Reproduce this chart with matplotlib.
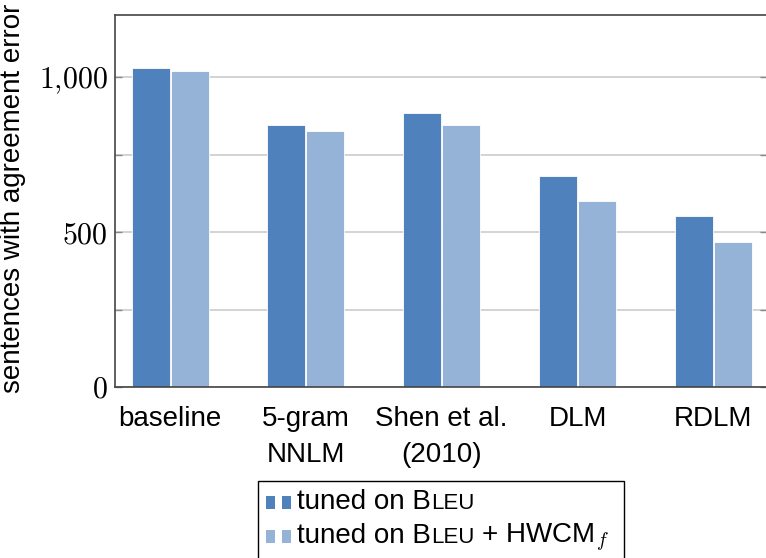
import matplotlib
matplotlib.use("Agg")
import matplotlib.pyplot as plt
import numpy as np
from matplotlib.offsetbox import AnchoredOffsetbox, DrawingArea, HPacker, TextArea, VPacker
from matplotlib.patches import Rectangle

plt.rcParams["font.family"] = ["Liberation Sans", "DejaVu Sans"]
plt.rcParams["mathtext.fontset"] = "cm"

# data
systems = ["baseline", "5-gram\nNNLM", "Shen et al.\n(2010)", "DLM", "RDLM"]
bleu = [1029, 846, 885, 681, 551]
bleu_hwcm = [1019, 827, 846, 600, 469]
yticks = [0, 250, 500, 750, 1000]
ytick_labels = ["$0$", "", "$500$", "", "$1{,}000$"]

DARK = "#4f81bd"
LIGHT = "#95b3d7"

W, H = 766, 558
fig = plt.figure(figsize=(W / 100, H / 100), dpi=100)
ax = fig.add_axes([115 / W, 1 - 387 / H, 652 / W, 372 / H])

x = np.arange(len(systems))
bw = 0.28
ax.bar(x - bw / 2 - 0.003, bleu, bw, color=DARK, edgecolor="white", linewidth=0.6, zorder=2)
ax.bar(x + bw / 2 + 0.004, bleu_hwcm, bw, color=LIGHT, edgecolor="white", linewidth=0.6, zorder=2)

ax.set_xlim(-0.405, 4.395)
ax.set_ylim(0, 1200)
ax.set_xticks(x)
ax.set_xticklabels(systems, fontsize=20, linespacing=1.5)
ax.set_yticks(yticks)
ax.set_yticklabels(ytick_labels, fontsize=21.5)
ax.tick_params(axis="x", length=0, pad=13.5)
ax.tick_params(axis="y", direction="in", length=5, width=1, color="#888888",
               left=True, right=True, pad=5)
ax.yaxis.grid(True, color="#cccccc", linewidth=1.2, zorder=0)
ax.set_axisbelow(True)
for side in ["left", "top", "bottom", "right"]:
    ax.spines[side].set_color("#444444")
    ax.spines[side].set_linewidth(1.2)
ax.set_ylabel("sentences with agreement error", fontsize=20)
ax.yaxis.set_label_coords(-0.1365, 0.508)


def legend_row(color, parts, tail=0):
    da = DrawingArea(21, 9.4, 0, 0)
    da.add_artist(Rectangle((0, 0), 7.0, 9.4, fc=color, ec="none"))
    da.add_artist(Rectangle((11.5, 0), 6.8, 9.4, fc=color, ec="none"))
    texts = [TextArea(t, textprops=dict(size=s)) for t, s in parts]
    if tail:
        texts.append(DrawingArea(tail, 1, 0, 0))
    label = HPacker(children=texts, align="baseline", pad=0, sep=0)
    return HPacker(children=[da, label], align="baseline", pad=0, sep=1.5)


rows = [
    legend_row(DARK, [("tuned on B", 20), ("LEU", 16)]),
    legend_row(LIGHT, [("tuned on B", 20), ("LEU", 16), (" + HWCM$_f$", 20)], tail=5),
]
box = VPacker(children=rows, align="left", pad=0, sep=5)
leg = AnchoredOffsetbox(loc="upper left", child=box, pad=0.55, borderpad=0,
                        frameon=True, bbox_to_anchor=(258 / W, 1 - 481 / H),
                        bbox_transform=fig.transFigure)
leg.patch.set_edgecolor("black")
leg.patch.set_linewidth(1.0)
leg.patch.set_boxstyle("square", pad=0)
fig.add_artist(leg)

fig.savefig("out.png", dpi=100)
